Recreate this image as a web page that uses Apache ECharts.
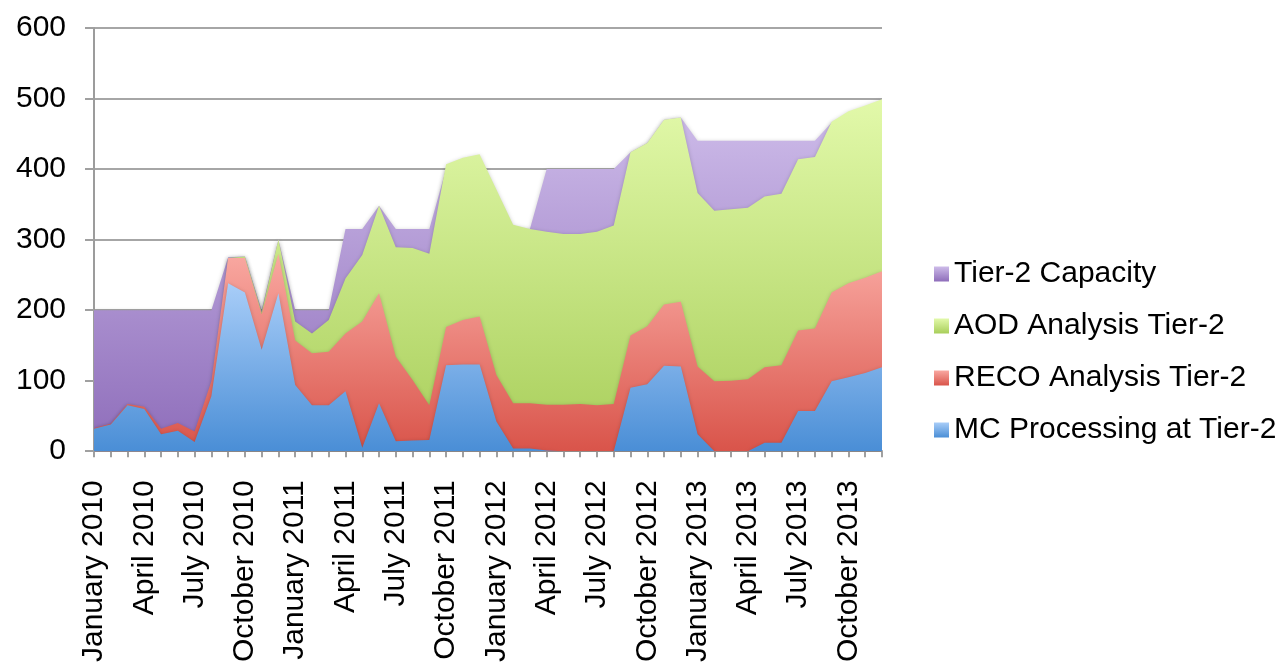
<!DOCTYPE html>
<html>
<head>
<meta charset="utf-8">
<script src="https://cdn.jsdelivr.net/npm/echarts@6/dist/echarts.min.js"></script>
<style>
html,body{margin:0;padding:0;background:#fff;}
#chart{width:1283px;height:665px;}
</style>
</head>
<body>
<div id="chart"></div>
<script>
const monthNames = ["January","February","March","April","May","June","July","August","September","October","November","December"];
const years = [2010, 2011, 2012, 2013];
const categories = [];
years.forEach(y => monthNames.forEach(m => categories.push(m + " " + y)));

const seriesNames = ["Tier-2 Capacity", "AOD Analysis Tier-2", "RECO Analysis Tier-2", "MC Processing at Tier-2"];

const capacity = [200,200,200,200,200,200,200,200,275,276,200,300,
                  200,200,200,315,315,348,315,315,315,400,400,400,
                  315,315,315,400,400,400,400,400,424,437,470,473,
                  440,440,440,440,440,440,440,440,466,470,475,480];
const aod = [0,0,0,0,0,0,0,0,274,276,197,300,
             184,167,186,245,278,348,289,288,280,407,416,421,
             371,321,315,311,308,308,311,320,424,437,470,473,
             366,341,343,345,361,365,414,417,467,482,490,499];
const reco = [33,39,67,63,32,40,28,99,274,274,194,280,
              157,139,141,167,184,224,134,101,65,176,186,191,
              108,68,68,66,66,67,65,67,164,177,208,212,
              120,99,100,102,119,122,171,174,225,238,246,255];
const mc = [32,38,65,60,24,29,13,78,238,225,144,224,
            94,65,65,85,5,68,14,15,16,122,123,123,
            42,4,4,1,0,0,0,0,90,95,121,120,
            24,0,0,0,12,12,57,57,99,105,111,119];

const yTicks = {min: 0, max: 600, interval: 100};

function grad(top, bottom) {
  return new echarts.graphic.LinearGradient(0, 0, 0, 1, [
    {offset: 0, color: top}, {offset: 1, color: bottom}
  ]);
}
const fills = [
  grad('#cdbbe9', '#8e6dba'),
  grad('#e2f9aa', '#a8ce5a'),
  grad('#f9a8a1', '#d9544a'),
  grad('#a8cdf8', '#4a8ed6')
];
const values = [capacity, aod, reco, mc];

const chart = echarts.init(document.getElementById('chart'), null, {renderer: 'canvas'});
const font = '"Liberation Sans", Arial, Helvetica, sans-serif';

chart.setOption({
  animation: false,
  backgroundColor: '#ffffff',
  grid: {left: 94, right: 401, top: 28, bottom: 212, containLabel: false},
  legend: {
    orient: 'vertical',
    left: 929,
    top: 254,
    itemWidth: 15,
    itemHeight: 15,
    itemGap: 22,
    icon: 'rect',
    textStyle: {fontFamily: font, fontSize: 30, color: '#000'},
    data: seriesNames
  },
  xAxis: {
    type: 'category',
    data: categories,
    boundaryGap: false,
    axisLine: {lineStyle: {color: '#9c9c9c', width: 2}},
    axisTick: {show: true, interval: 0, length: 6, lineStyle: {color: '#a0a0a0', width: 2}},
    axisLabel: {
      interval: 2,
      rotate: 90,
      margin: 29,
      fontFamily: font,
      fontSize: 30,
      color: '#000'
    },
    splitLine: {show: false}
  },
  yAxis: {
    type: 'value',
    min: yTicks.min,
    max: yTicks.max,
    interval: yTicks.interval,
    axisLine: {show: true, lineStyle: {color: '#9c9c9c', width: 2}},
    axisTick: {show: true, length: 9, lineStyle: {color: '#a0a0a0', width: 2}},
    axisLabel: {fontFamily: font, fontSize: 30, color: '#000', margin: 28},
    splitLine: {show: true, lineStyle: {color: '#a6a6a6', width: 2}}
  },
  series: seriesNames.map((name, k) => ({
    name: name,
    type: 'line',
    data: values[k],
    showSymbol: false,
    symbol: 'none',
    z: 2 + k,
    itemStyle: {color: fills[k]},
    lineStyle: {width: 0, color: 'rgba(0,0,0,0)'},
    areaStyle: {
      color: fills[k],
      opacity: 1,
      shadowBlur: 4,
      shadowColor: 'rgba(0,0,0,0.22)',
      shadowOffsetY: 1
    }
  }))
});
</script>
</body>
</html>
